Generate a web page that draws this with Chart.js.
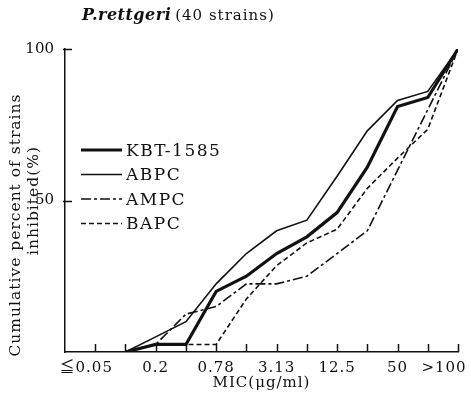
<!DOCTYPE html>
<html>
<head>
<meta charset="utf-8">
<script src="https://cdn.jsdelivr.net/npm/chart.js@4.4.0/dist/chart.umd.min.js"></script>
<style>
  html, body { margin: 0; padding: 0; background: #fff; }
  canvas { display: block; }
</style>
</head>
<body>
<canvas id="micChart" width="471" height="395"></canvas>
<script>
// MIC steps (ug/ml) on the x axis, one per index
var micLabels = ['≦0.05', '0.1', '0.2', '0.39', '0.78', '1.56', '3.13', '6.25', '12.5', '25', '50', '100', '>100'];

// cumulative percent of strains inhibited at each MIC step
var kbt1585 = [null, 0, 2.5, 2.5, 20, 25, 32.5, 38, 46, 61, 81, 84, 100];
var abpc    = [null, 0, 5, 10, 22.5, 32.5, 40, 43.5, 58, 73, 83, 86, 100];
var ampc    = [null, 0, 2.5, 12.5, 15, 22.5, 22.5, 25, 32.5, 40, 60, 80, 100];
var bapc    = [null, 0, 2.5, 2.5, 2.5, 17.5, 28.5, 36, 40.5, 54, 64, 73.5, 100];

var yTickValues = [50, 100];

var serif = '"DejaVu Serif", "Noto Sans CJK JP", serif';
var ink = '#111';

function toPoints(values) {
    return values.map(function (v, i) {
        return { x: i, y: v };
    });
}

function makeSet(label, values, width, dash) {
    return {
        label: label,
        data: toPoints(values),
        borderColor: ink,
        borderWidth: width,
        borderDash: dash,
        pointRadius: 0,
        tension: 0,
        fill: false
    };
}

// ticks, labels, titles and legend drawn on top of the plot
var paperDecor = {
    id: 'paperDecor',
    afterDraw: function (chart) {
        var ctx = chart.ctx;
        var xs = chart.scales.x;
        var ys = chart.scales.y;
        var area = chart.chartArea;

        ctx.save();
        ctx.strokeStyle = ink;
        ctx.fillStyle = ink;
        ctx.lineWidth = 1.5;

        // inward tick marks
        ctx.beginPath();
        for (var i = 0; i < micLabels.length; i++) {
            var px = Math.round(xs.getPixelForValue(i)) + 0.5;
            ctx.moveTo(px, area.bottom);
            ctx.lineTo(px, area.bottom - 8);
        }
        yTickValues.forEach(function (v) {
            var py = Math.round(ys.getPixelForValue(v)) + 0.5;
            ctx.moveTo(area.left - 2, py);
            ctx.lineTo(area.left + 7, py);
        });
        ctx.stroke();

        // x tick labels, every other step; the end ones pulled in
        ctx.font = '15px ' + serif;
        ctx.textAlign = 'center';
        ctx.textBaseline = 'middle';
        ctx.letterSpacing = '1px';
        for (var j = 0; j < micLabels.length; j += 2) {
            var nudge = 0;
            if (j === 0) nudge = -9;
            if (j === micLabels.length - 1) nudge = -14;
            ctx.fillText(micLabels[j], xs.getPixelForValue(j) + nudge, area.bottom + 16);
        }

        // x axis title
        ctx.fillText('MIC(μg/ml)', (area.left + area.right) / 2, area.bottom + 31);

        // y axis title, two lines
        ctx.font = '15.5px ' + serif;
        ctx.save();
        ctx.translate(16, 225);
        ctx.rotate(-Math.PI / 2);
        ctx.fillText('Cumulative percent of strains', 0, 0);
        ctx.restore();
        ctx.save();
        ctx.translate(34, (area.top + area.bottom) / 2);
        ctx.rotate(-Math.PI / 2);
        ctx.fillText('inhibited(%)', 0, 0);
        ctx.restore();

        // title
        ctx.textAlign = 'left';
        ctx.letterSpacing = '0.5px';
        ctx.font = 'italic bold 16px ' + serif;
        ctx.fillText('P.rettgeri', 82, 16);
        var w = ctx.measureText('P.rettgeri').width;
        ctx.letterSpacing = '1px';
        ctx.font = '15px ' + serif;
        ctx.fillText('(40 strains)', 82 + w + 4, 16);

        // legend
        ctx.font = '17px ' + serif;
        ctx.letterSpacing = '1.5px';
        chart.data.datasets.forEach(function (ds, k) {
            var ly = 150 + k * 24.5;
            ctx.save();
            ctx.lineWidth = ds.borderWidth;
            ctx.setLineDash(ds.borderDash || []);
            ctx.beginPath();
            ctx.moveTo(81, ly);
            ctx.lineTo(122, ly);
            ctx.stroke();
            ctx.restore();
            ctx.fillText(ds.label, 126, ly + 1.5);
        });

        ctx.restore();
    }
};

var chart = new Chart(document.getElementById('micChart'), {
    type: 'line',
    data: {
        datasets: [
            makeSet('KBT-1585', kbt1585, 3.2, []),
            makeSet('ABPC', abpc, 1.6, []),
            makeSet('AMPC', ampc, 1.6, [10, 3, 3, 3]),
            makeSet('BAPC', bapc, 1.6, [5, 3])
        ]
    },
    options: {
        responsive: false,
        animation: false,
        devicePixelRatio: 1,
        layout: { padding: { top: 49, right: 13, bottom: 0, left: 0 } },
        plugins: {
            legend: { display: false },
            tooltip: { enabled: false }
        },
        scales: {
            x: {
                type: 'linear',
                min: -1,
                max: 12,
                ticks: { display: false, stepSize: 1 },
                grid: { display: false },
                border: { color: ink, width: 1.5 },
                afterFit: function (scale) { scale.height = 43; }
            },
            y: {
                min: 0,
                max: 100,
                ticks: {
                    stepSize: 50,
                    padding: 3,
                    color: ink,
                    font: { family: serif, size: 15 },
                    callback: function (v) { return v === 0 ? '' : v; }
                },
                grid: { display: false },
                border: { color: ink, width: 1.5 },
                afterFit: function (scale) { scale.width = 65; }
            }
        }
    },
    plugins: [paperDecor]
});
</script>
</body>
</html>
